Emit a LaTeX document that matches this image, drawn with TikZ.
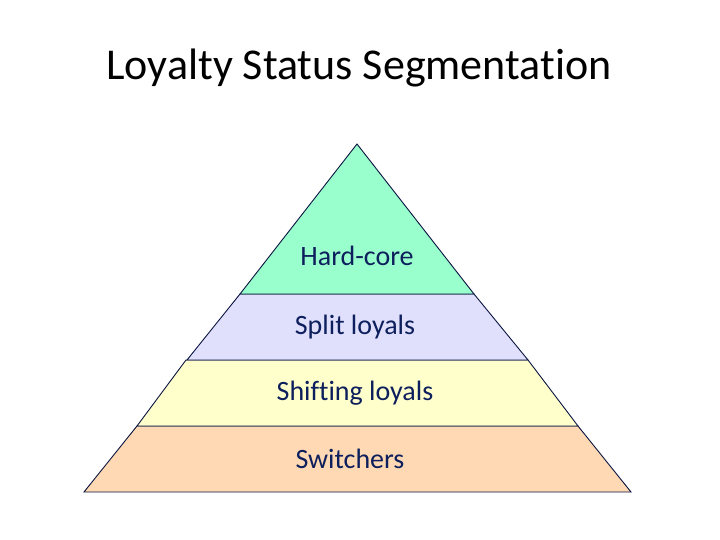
\documentclass[tikz,border=0pt]{standalone}
\usepackage{fontspec}
\setmainfont{Carlito}[Ligatures=NoCommon]
\definecolor{hardc}{HTML}{99FFCC}
\definecolor{splitc}{HTML}{E0E0FC}
\definecolor{shiftc}{HTML}{FFFFCC}
\definecolor{switchc}{HTML}{FFD9B3}
\definecolor{edgec}{HTML}{0A1440}
\definecolor{labc}{HTML}{0D1F5C}
\begin{document}
\begin{tikzpicture}[x=1pt,y=-1pt,
  layer/.style={draw=edgec,line width=0.9pt,line join=miter},
  lab/.style={font=\fontsize{28}{32}\selectfont,text=labc,inner sep=0pt}]
\useasboundingbox (0,0) rectangle (720,540);
\node[font=\fontsize{44}{52}\selectfont,text=black,inner sep=0pt] (title) at (359,68) {Loyalty Status Segmentation};
\filldraw[layer,fill=switchc] (137,426) -- (578,426) -- (631,492) -- (84,492) -- cycle;
\filldraw[layer,fill=shiftc] (186,360) -- (528,360) -- (578,426) -- (137,426) -- cycle;
\filldraw[layer,fill=splitc] (240,294) -- (474,294) -- (528,360) -- (187,360) -- cycle;
\filldraw[layer,fill=hardc] (357,144) -- (474,294) -- (240,294) -- cycle;
\node[lab] (hc) at (357,256) {Hard-core};
\node[lab] (sl) at (355,327) {Split loyals};
\node[lab] (shl) at (355,393) {Shifting loyals};
\node[lab] (sw) at (350,459) {Switchers};
\end{tikzpicture}
\end{document}
